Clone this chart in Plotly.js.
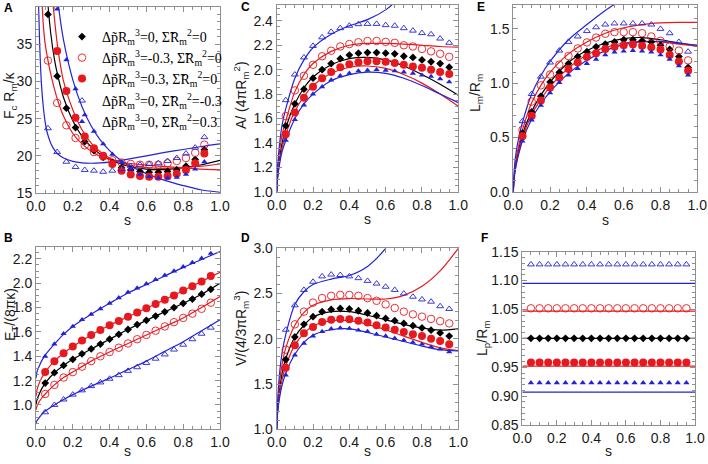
<!DOCTYPE html>
<html>
<head>
<meta charset="utf-8">
<script src="https://cdn.plot.ly/plotly-3.0.1.min.js"></script>
<style>
  html, body { margin: 0; padding: 0; background: #fff; }
  #chart { width: 708px; height: 464px; }
</style>
</head>
<body>
<div id="chart"></div>
<script>
// s values of the simulation points
var sA = [0.065, 0.115, 0.165, 0.215, 0.265, 0.315, 0.365, 0.415, 0.465, 0.515, 0.565, 0.615, 0.665, 0.715, 0.765, 0.815, 0.865, 0.915];
var sM = [0.05, 0.1, 0.15, 0.2, 0.25, 0.3, 0.35, 0.4, 0.45, 0.5, 0.55, 0.6, 0.65, 0.7, 0.75, 0.8, 0.85, 0.9, 0.95];

// legend labels (order: black, red open, red filled, blue open, blue filled)
var seriesNames = [
    'Δp̃R<sub>m</sub><sup>3</sup>=0, Σ̃R<sub>m</sub><sup>2</sup>=0',
    'Δp̃R<sub>m</sub><sup>3</sup>=-0.3, Σ̃R<sub>m</sub><sup>2</sup>=0',
    'Δp̃R<sub>m</sub><sup>3</sup>=0.3, Σ̃R<sub>m</sub><sup>2</sup>=0',
    'Δp̃R<sub>m</sub><sup>3</sup>=0, Σ̃R<sub>m</sub><sup>2</sup>=-0.3',
    'Δp̃R<sub>m</sub><sup>3</sup>=0, Σ̃R<sub>m</sub><sup>2</sup>=0.3'
];

// Panel A: F_c R_m / kappa
var aBlack    = [39.0, 30.7, 26.4, 23.8, 21.9, 20.7, 19.8, 19.1, 18.4, 18.1, 17.9, 17.8, 17.8, 17.9, 18.1, 18.6, 19.5, 20.8];
var aRedOpen  = [32.8, 27.1, 24.1, 22.4, 21.4, 20.5, 19.9, 19.4, 19.1, 18.9, 18.8, 18.8, 18.8, 19.0, 19.3, 19.7, 20.4, 21.5];
var aRedFill  = [null, 34.1, 28.7, 25.1, 22.6, 21.0, 20.0, 18.9, 18.0, 17.5, 17.3, 17.2, 17.2, 17.3, 17.6, 18.1, 19.0, 20.3];
var aBlueOpen = [23.7, 20.5, 19.2, 18.5, 18.1, 18.0, 17.85, 18.0, 18.2, 18.6, 18.8, 18.9, 19.0, 19.3, 19.7, 20.3, 21.1, 22.5];
var aBlueFill = [null, 39.7, 32.9, 29.0, 25.5, 23.3, 21.6, 20.2, 19.1, 18.2, 17.5, 17.2, 17.0, 17.0, 17.1, 17.5, 18.2, 19.2];
var gA = [0.012, 0.02, 0.03, 0.04, 0.05, 0.06, 0.08, 0.1, 0.12, 0.15, 0.2, 0.25, 0.3, 0.35, 0.4, 0.45, 0.5, 0.6, 0.7, 0.8, 0.9, 1.0];
var aLineBlack    = [null, null, null, null, 47, 42, 36.5, 33.0, 30.6, 27.8, 24.7, 22.6, 21.2, 20.2, 19.5, 19.0, 18.6, 18.2, 18.15, 18.4, 18.8, 19.4];
var aLineRedOpen  = [null, null, 42, 37.5, 35.0, 33.5, 31.0, 29.0, 27.3, 25.3, 23.0, 21.6, 20.6, 19.9, 19.5, 19.2, 19.0, 18.75, 18.55, 18.4, 18.2, 18.1];
var aLineRedFill  = [null, null, null, null, null, null, 44, 38.5, 34.2, 30.0, 26.2, 23.5, 21.7, 20.5, 19.7, 19.2, 18.8, 18.4, 18.3, 18.4, 18.6, 18.9];
var aLineBlueOpen = [42, 35, 29.5, 26.5, 24.5, 23.2, 21.7, 20.8, 20.2, 19.7, 19.25, 19.05, 19.0, 19.05, 19.15, 19.35, 19.55, 20.0, 20.45, 20.85, 21.25, 21.6];
var aLineBlueFill = [null, null, null, null, null, null, null, 45, 40.5, 35.5, 30.2, 26.6, 24.0, 22.1, 20.7, 19.6, 18.8, 17.6, 16.7, 16.0, 15.4, 15.1];

// grid of the theory curves in panels B to E
var g = [0, 0.005, 0.015, 0.03, 0.05, 0.1, 0.15, 0.2, 0.3, 0.4, 0.5, 0.6, 0.7, 0.8, 0.9, 1.0];

// Panel B: E_T / (8 pi kappa)
var bBlack    = [1.18, 1.265, 1.325, 1.375, 1.42, 1.46, 1.50, 1.54, 1.58, 1.62, 1.66, 1.695, 1.73, 1.765, 1.80, 1.835, 1.87, 1.91, 1.95];
var bRedOpen  = [1.09, 1.165, 1.225, 1.27, 1.315, 1.36, 1.40, 1.435, 1.47, 1.505, 1.54, 1.575, 1.61, 1.645, 1.68, 1.715, 1.75, 1.79, 1.84];
var bRedFill  = [1.27, 1.36, 1.425, 1.48, 1.53, 1.575, 1.615, 1.655, 1.69, 1.725, 1.76, 1.795, 1.83, 1.865, 1.90, 1.94, 1.975, 2.015, 2.06];
var bBlueOpen = [0.94, 1.0, 1.045, 1.085, 1.12, 1.155, 1.185, 1.215, 1.245, 1.28, 1.31, 1.345, 1.38, 1.415, 1.455, 1.495, 1.54, 1.585, 1.635];
var bBlueFill = [1.40, 1.50, 1.585, 1.645, 1.70, 1.745, 1.79, 1.835, 1.88, 1.925, 1.96, 1.995, 2.03, 2.065, 2.10, 2.135, 2.17, 2.205, 2.245];
var bLineBlack    = [1.0, 1.04, 1.08, 1.13, 1.18, 1.265, 1.325, 1.375, 1.46, 1.54, 1.62, 1.695, 1.765, 1.835, 1.91, 2.0];
var bLineRedOpen  = [0.96, 0.99, 1.02, 1.055, 1.09, 1.165, 1.225, 1.27, 1.36, 1.435, 1.505, 1.575, 1.645, 1.715, 1.80, 1.89];
var bLineRedFill  = [1.07, 1.12, 1.17, 1.22, 1.27, 1.36, 1.425, 1.48, 1.575, 1.655, 1.725, 1.795, 1.865, 1.94, 2.015, 2.09];
var bLineBlueOpen = [0.85, 0.87, 0.89, 0.92, 0.95, 1.0, 1.045, 1.085, 1.155, 1.22, 1.29, 1.36, 1.44, 1.52, 1.61, 1.70];
var bLineBlueFill = [1.22, 1.27, 1.31, 1.36, 1.41, 1.50, 1.58, 1.645, 1.745, 1.835, 1.92, 1.99, 2.06, 2.13, 2.195, 2.26];

// Panel C: A / (4 pi R_m^2)
var cBlack    = [1.54, 1.72, 1.84, 1.93, 2.0, 2.05, 2.09, 2.12, 2.135, 2.14, 2.14, 2.135, 2.13, 2.11, 2.10, 2.08, 2.065, 2.05, 2.02];
var cRedOpen  = [1.62, 1.83, 1.95, 2.04, 2.11, 2.155, 2.19, 2.21, 2.225, 2.235, 2.235, 2.228, 2.22, 2.20, 2.19, 2.17, 2.15, 2.13, 2.105];
var cRedFill  = [1.47, 1.65, 1.77, 1.86, 1.93, 1.98, 2.02, 2.045, 2.06, 2.07, 2.07, 2.065, 2.055, 2.04, 2.025, 2.015, 2.0, 1.98, 1.965];
var cBlueOpen = [1.75, 1.96, 2.10, 2.195, 2.265, 2.31, 2.34, 2.36, 2.373, 2.375, 2.375, 2.365, 2.36, 2.34, 2.32, 2.30, 2.29, 2.255, 2.22];
var cBlueFill = [1.42, 1.59, 1.71, 1.80, 1.86, 1.915, 1.95, 1.97, 1.99, 1.995, 2.0, 1.995, 1.99, 1.98, 1.97, 1.955, 1.945, 1.925, 1.90];
var cLineBlack    = [1.0, 1.13, 1.26, 1.40, 1.52, 1.72, 1.85, 1.94, 2.04, 2.09, 2.10, 2.08, 2.03, 1.96, 1.88, 1.79];
var cLineRedOpen  = [1.0, 1.17, 1.33, 1.47, 1.58, 1.82, 1.96, 2.05, 2.15, 2.20, 2.215, 2.215, 2.21, 2.20, 2.19, 2.185];
var cLineRedFill  = [1.0, 1.12, 1.24, 1.36, 1.47, 1.66, 1.78, 1.87, 1.97, 2.02, 2.03, 2.01, 1.96, 1.89, 1.80, 1.70];
var cLineBlueOpen = [1.0, 1.2, 1.38, 1.55, 1.68, 1.93, 2.08, 2.18, 2.29, 2.36, 2.41, 2.49, 2.62, null, null, null];
var cLineBlueFill = [1.0, 1.11, 1.22, 1.33, 1.42, 1.60, 1.72, 1.80, 1.91, 1.96, 1.98, 1.97, 1.93, 1.87, 1.80, 1.73];

// Panel D: V / (4/3 pi R_m^3)
var dBlack    = [1.77, 2.02, 2.16, 2.245, 2.30, 2.325, 2.335, 2.33, 2.31, 2.285, 2.255, 2.225, 2.20, 2.17, 2.145, 2.12, 2.095, 2.065, 2.03];
var dRedOpen  = [1.88, 2.16, 2.30, 2.40, 2.45, 2.475, 2.485, 2.485, 2.475, 2.45, 2.42, 2.38, 2.34, 2.30, 2.27, 2.245, 2.22, 2.195, 2.17];
var dRedFill  = [1.68, 1.93, 2.06, 2.13, 2.185, 2.21, 2.22, 2.215, 2.20, 2.18, 2.15, 2.125, 2.10, 2.075, 2.05, 2.03, 2.0, 1.975, 1.94];
var dBlueOpen = [2.10, 2.37, 2.54, 2.63, 2.69, 2.71, 2.705, 2.69, 2.67, 2.64, 2.61, 2.575, 2.54, 2.50, 2.465, 2.435, 2.41, 2.36, 2.33];
var dBlueFill = [1.60, 1.82, 1.95, 2.03, 2.08, 2.11, 2.12, 2.115, 2.095, 2.08, 2.05, 2.03, 2.005, 1.985, 1.96, 1.94, 1.91, 1.885, 1.855];
var dLineBlack    = [1.0, 1.22, 1.42, 1.62, 1.78, 2.02, 2.15, 2.24, 2.30, 2.30, 2.26, 2.21, 2.16, 2.12, 2.095, 2.11];
var dLineRedOpen  = [1.0, 1.25, 1.5, 1.72, 1.9, 2.15, 2.29, 2.37, 2.43, 2.445, 2.44, 2.44, 2.48, 2.58, 2.75, 3.0];
var dLineRedFill  = [1.0, 1.2, 1.38, 1.55, 1.70, 1.93, 2.06, 2.14, 2.2, 2.2, 2.16, 2.1, 2.03, 1.96, 1.9, 1.87];
var dLineBlueOpen = [1.0, 1.3, 1.6, 1.85, 2.05, 2.38, 2.52, 2.6, 2.66, 2.7, 2.8, 3.0, 3.3, null, null, null];
var dLineBlueFill = [1.0, 1.18, 1.34, 1.49, 1.62, 1.83, 1.96, 2.04, 2.1, 2.11, 2.07, 2.02, 1.97, 1.92, 1.88, 1.865];

// Panel E: L_m / R_m
var eBlack    = [0.54, 0.735, 0.88, 1.01, 1.10, 1.18, 1.245, 1.29, 1.335, 1.36, 1.38, 1.40, 1.40, 1.39, 1.38, 1.35, 1.31, 1.245, 1.145];
var eRedOpen  = [0.57, 0.83, 0.98, 1.08, 1.17, 1.25, 1.32, 1.375, 1.42, 1.455, 1.47, 1.47, 1.47, 1.46, 1.43, 1.39, 1.34, 1.30, 1.21];
var eRedFill  = [0.51, 0.70, 0.84, 0.96, 1.05, 1.13, 1.19, 1.24, 1.275, 1.315, 1.335, 1.35, 1.355, 1.345, 1.33, 1.31, 1.26, 1.20, 1.115];
var eBlueOpen = [0.65, 0.90, 1.06, 1.19, 1.30, 1.38, 1.43, 1.48, 1.515, 1.54, 1.55, 1.55, 1.55, 1.55, 1.54, 1.50, 1.46, 1.38, 1.29];
var eBlueFill = [0.465, 0.66, 0.795, 0.91, 1.005, 1.075, 1.135, 1.18, 1.22, 1.26, 1.285, 1.295, 1.30, 1.295, 1.285, 1.26, 1.22, 1.16, 1.075];
var eLineBlack    = [0, 0.15, 0.27, 0.39, 0.53, 0.74, 0.89, 1.01, 1.19, 1.30, 1.37, 1.41, 1.42, 1.40, 1.37, 1.34];
var eLineRedOpen  = [0, 0.17, 0.3, 0.43, 0.57, 0.82, 0.98, 1.1, 1.27, 1.38, 1.46, 1.51, 1.54, 1.555, 1.56, 1.56];
var eLineRedFill  = [0, 0.14, 0.25, 0.37, 0.50, 0.71, 0.85, 0.97, 1.14, 1.26, 1.33, 1.37, 1.385, 1.38, 1.36, 1.34];
var eLineBlueOpen = [0, 0.2, 0.36, 0.5, 0.64, 0.9, 1.07, 1.2, 1.4, 1.54, 1.67, 1.78, null, null, null, null];
var eLineBlueFill = [0, 0.13, 0.24, 0.35, 0.47, 0.67, 0.81, 0.92, 1.09, 1.21, 1.30, 1.355, 1.38, 1.385, 1.37, 1.35];

// Panel F: L_p / R_m
var fBlack    = [1.0, 1.0, 1.0, 1.0, 1.0, 1.0, 1.0, 1.0, 1.0, 1.0, 1.0, 1.0, 1.0, 1.0, 1.0, 1.0, 1.0, 1.0, 1.0];
var fRedOpen  = [1.052, 1.052, 1.052, 1.052, 1.052, 1.052, 1.052, 1.052, 1.052, 1.052, 1.052, 1.052, 1.052, 1.052, 1.052, 1.052, 1.052, 1.052, 1.052];
var fRedFill  = [0.958, 0.958, 0.958, 0.958, 0.958, 0.958, 0.958, 0.958, 0.958, 0.958, 0.958, 0.958, 0.958, 0.958, 0.958, 0.958, 0.958, 0.958, 0.958];
var fBlueOpen = [1.128, 1.128, 1.128, 1.128, 1.128, 1.128, 1.128, 1.128, 1.128, 1.128, 1.128, 1.128, 1.128, 1.128, 1.128, 1.128, 1.128, 1.128, 1.128];
var fBlueFill = [0.923, 0.923, 0.923, 0.923, 0.923, 0.923, 0.923, 0.923, 0.923, 0.923, 0.923, 0.923, 0.923, 0.923, 0.923, 0.923, 0.923, 0.923, 0.923];
var gF = [0, 1];
var fLineBlack    = [1.0, 1.0];
var fLineRedOpen  = [1.047, 1.047];
var fLineRedFill  = [0.952, 0.952];
var fLineBlueOpen = [1.095, 1.095];
var fLineBlueFill = [0.907, 0.907];

// tick positions
var sTicks  = [0, 0.2, 0.4, 0.6, 0.8, 1.0];
var aYTicks = [15, 20, 25, 30, 35, 40];
var bYTicks = [1.0, 1.2, 1.4, 1.6, 1.8, 2.0, 2.2];
var cYTicks = [1.0, 1.2, 1.4, 1.6, 1.8, 2.0, 2.2, 2.4];
var dYTicks = [1.0, 1.5, 2.0, 2.5, 3.0];
var eYTicks = [0.0, 0.5, 1.0, 1.5];
var fYTicks = [0.85, 0.90, 0.95, 1.00, 1.05, 1.10, 1.15];

var RED = '#e8191e', BLUE = '#2222d8';
var W = 708, H = 464;
function px(x) { return x / W; }
function py(y) { return 1 - y / H; }

// marker look of each series, same order as seriesNames
var markStyles = [
    { symbol: 'diamond', size: 6, color: '#000000' },
    { symbol: 'circle-open', size: 7.5, color: RED, line: { color: RED, width: 0.9 } },
    { symbol: 'circle', size: 8, color: RED },
    { symbol: 'triangle-up-open', size: 6, color: BLUE, line: { color: BLUE, width: 0.9 } },
    { symbol: 'triangle-up', size: 5.5, color: BLUE }
];
var lineColors = ['#000000', RED, RED, BLUE, BLUE];
var legendIds = ['legend', 'legend2', 'legend3', 'legend4', 'legend5'];
var legendTops = [21, 42, 63, 85, 106];

var panels = [
    { n: '', s: sA, marks: [aBlack, aRedOpen, aRedFill, aBlueOpen, aBlueFill],
      grid: gA, lines: [aLineBlack, aLineRedOpen, aLineRedFill, aLineBlueOpen, aLineBlueFill] },
    { n: '2', s: sM, marks: [bBlack, bRedOpen, bRedFill, bBlueOpen, bBlueFill],
      grid: g, lines: [bLineBlack, bLineRedOpen, bLineRedFill, bLineBlueOpen, bLineBlueFill] },
    { n: '3', s: sM, marks: [cBlack, cRedOpen, cRedFill, cBlueOpen, cBlueFill],
      grid: g, lines: [cLineBlack, cLineRedOpen, cLineRedFill, cLineBlueOpen, cLineBlueFill] },
    { n: '4', s: sM, marks: [dBlack, dRedOpen, dRedFill, dBlueOpen, dBlueFill],
      grid: g, lines: [dLineBlack, dLineRedOpen, dLineRedFill, dLineBlueOpen, dLineBlueFill] },
    { n: '5', s: sM, marks: [eBlack, eRedOpen, eRedFill, eBlueOpen, eBlueFill],
      grid: g, lines: [eLineBlack, eLineRedOpen, eLineRedFill, eLineBlueOpen, eLineBlueFill] },
    { n: '6', s: sM, marks: [fBlack, fRedOpen, fRedFill, fBlueOpen, fBlueFill],
      grid: gF, lines: [fLineBlack, fLineRedOpen, fLineRedFill, fLineBlueOpen, fLineBlueFill] }
];

var data = [];
panels.forEach(function (p, pi) {
    // theory curves first, so the points sit on top
    p.lines.forEach(function (ly, k) {
        data.push({
            x: p.grid, y: ly, type: 'scatter', mode: 'lines',
            xaxis: 'x' + p.n, yaxis: 'y' + p.n,
            line: { color: lineColors[k], width: 1.2, shape: pi === 5 ? 'linear' : 'spline', smoothing: 0.8 },
            showlegend: false, hoverinfo: 'skip'
        });
    });
    p.marks.forEach(function (my, k) {
        data.push({
            x: p.s, y: my, type: 'scatter', mode: 'markers',
            xaxis: 'x' + p.n, yaxis: 'y' + p.n,
            marker: markStyles[k],
            name: seriesNames[k],
            legend: legendIds[k],
            showlegend: pi === 0
        });
    });
});

var tickFont = { family: 'Liberation Sans, Arial, sans-serif', size: 14, color: '#1a1a1a' };
var frame = {
    showline: true, mirror: 'ticks', linecolor: '#8f8f8f', linewidth: 1,
    ticks: 'inside', ticklen: 5, tickcolor: '#8f8f8f',
    showgrid: false, zeroline: false, tickfont: tickFont
};
function xAxis(x0, x1, yId) {
    return Object.assign({
        domain: [px(x0), px(x1)], anchor: yId, range: [0, 1],
        tickmode: 'array', tickvals: sTicks, tickformat: '.1f',
        minor: { ticks: 'inside', ticklen: 3, tickcolor: '#8f8f8f', tickmode: 'linear', tick0: 0, dtick: 0.05 }
    }, frame);
}
function yAxis(y0, y1, xId, range, vals, fmt, minorStep) {
    return Object.assign({
        domain: [py(y1), py(y0)], anchor: xId, range: range,
        tickmode: 'array', tickvals: vals, tickformat: fmt,
        minor: { ticks: 'inside', ticklen: 3, tickcolor: '#8f8f8f', tickmode: 'linear', tick0: 0, dtick: minorStep }
    }, frame);
}

var labFont = { family: 'Liberation Sans, Arial, sans-serif', size: 14, color: '#1a1a1a' };
function yTitle(text, x, y) {
    return { text: text, xref: 'paper', yref: 'paper', x: px(x), y: py(y), textangle: -90,
             showarrow: false, xanchor: 'center', yanchor: 'middle', font: labFont };
}
function xTitle(x, y) {
    return { text: 's', xref: 'paper', yref: 'paper', x: px(x), y: py(y),
             showarrow: false, xanchor: 'center', yanchor: 'middle', font: labFont };
}
function letter(t, x, y) {
    return { text: '<b>' + t + '</b>', xref: 'paper', yref: 'paper', x: px(x), y: py(y),
             showarrow: false, xanchor: 'center', yanchor: 'middle',
             font: { family: 'Liberation Sans, Arial, sans-serif', size: 12, color: '#000' } };
}

var layout = {
    width: W, height: H,
    margin: { l: 0, r: 0, t: 0, b: 0 },
    paper_bgcolor: '#ffffff', plot_bgcolor: '#ffffff',
    showlegend: true,
    xaxis:  xAxis(36, 220, 'y'),
    yaxis:  yAxis(7, 193, 'x', [15, 40], aYTicks, 'd', 1),
    xaxis2: xAxis(36, 220, 'y2'),
    yaxis2: yAxis(246.7, 429.3, 'x2', [0.8, 2.3], bYTicks, '.1f', 0.05),
    xaxis3: xAxis(276.7, 458.3, 'y3'),
    yaxis3: yAxis(5, 191.7, 'x3', [1.0, 2.53], cYTicks, '.1f', 0.05),
    xaxis4: xAxis(276.7, 458.3, 'y4'),
    yaxis4: yAxis(248.3, 429.3, 'x4', [1.0, 3.0], dYTicks, '.1f', 0.1),
    xaxis5: xAxis(513.3, 697.3, 'y5'),
    yaxis5: yAxis(5, 191.7, 'x5', [0, 1.72], eYTicks, '.1f', 0.1),
    xaxis6: xAxis(522.3, 695, 'y6'),
    yaxis6: yAxis(251.7, 425, 'x6', [0.85, 1.15], fYTicks, '.2f', 0.01),
    annotations: [
        letter('A', 8, 8), letter('B', 8, 238), letter('C', 245, 7),
        letter('D', 245, 238), letter('E', 481, 7), letter('F', 484, 238),
        yTitle('F<sub>c</sub> R<sub>m</sub>/κ', 10, 95),
        yTitle('E<sub>T</sub>/(8πκ)', 11, 315),
        yTitle('A/ (4πR<sub>m</sub><sup>2</sup>)', 241, 95),
        yTitle('V/(4/3πR<sub>m</sub><sup>3</sup>)', 241, 329),
        yTitle('L<sub>m</sub>/R<sub>m</sub>', 476, 93),
        yTitle('L<sub>p</sub>/R<sub>m</sub>', 483, 338),
        xTitle(127, 220), xTitle(127, 451), xTitle(367, 219),
        xTitle(367, 451), xTitle(605, 220), xTitle(608, 451)
    ]
};

// one small legend per series, stacked inside panel A
legendIds.forEach(function (id, k) {
    layout[id] = {
        x: px(62), y: py(legendTops[k]), xanchor: 'left', yanchor: 'top',
        bgcolor: 'rgba(0,0,0,0)', borderwidth: 0, itemwidth: 30,
        font: { family: 'Liberation Serif, Times New Roman, serif', size: 14, color: '#000' }
    };
});

Plotly.newPlot('chart', data, layout, { staticPlot: true, displayModeBar: false });
</script>
</body>
</html>
